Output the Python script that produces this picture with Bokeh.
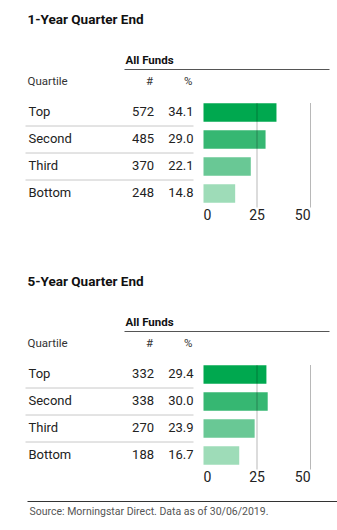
from bokeh.plotting import figure
from bokeh.models import Range1d, ColumnDataSource
from bokeh.layouts import column
from bokeh.core.properties import value
from bokeh.embed import file_html
from bokeh.resources import INLINE

# ---------------- data ----------------
quartiles = ["Top", "Second", "Third", "Bottom"]
counts_1y = [572, 485, 370, 248]
pcts_1y = [34.1, 29.0, 22.1, 14.8]
counts_5y = [332, 338, 270, 188]
pcts_5y = [29.4, 30.0, 23.9, 16.7]
ticks = [0, 25, 50]
titles = ["1-Year Quarter End", "5-Year Quarter End"]
group_label = "All Funds"
col_headers = ["Quartile", "#", "%"]
source_note = "Source: Morningstar Direct. Data as of 30/06/2019."

bar_colors = ["#00a84f", "#36b772", "#69c895", "#9edcb8"]

FONT = "Roboto"
W = 337
PX_PER_UNIT = (310 - 203) / 50.0   # pixels per percentage point
X0_PX = 203                          # pixel position of value 0
ROW0_PX = 112                        # pixel centre of first row
ROW_PX = 27                          # row pitch in pixels
TDY = -5.0                           # text baseline correction (px)


def X(px):
    return (px - X0_PX) / PX_PER_UNIT


def Y(px):
    return (px - ROW0_PX) / ROW_PX


def TY(px):
    return Y(px + TDY)


def panel(title, counts, pcts, height, with_source=False):
    p = figure(width=W, height=height, output_backend="svg", toolbar_location=None,
               x_range=Range1d(X(0), X(W)), y_range=Range1d(Y(height), Y(0)),
               x_axis_type=None, y_axis_type=None, min_border=0,
               outline_line_color=None, background_fill_color="white",
               border_fill_color="white")
    p.grid.visible = False

    f = value(FONT)
    idx = list(range(len(quartiles)))

    # title
    p.text(x=[X(27)], y=[TY(23)], text=[title], text_font=f, text_font_size="13.5px",
           text_font_style="bold", text_color="#111111", text_baseline="alphabetic")
    # group header
    p.text(x=[X(125)], y=[TY(64.5)], text=[group_label], text_font=f, text_font_size="11.5px",
           text_font_style="bold", text_color="#111111", text_baseline="alphabetic")
    p.segment(x0=[X(124)], x1=[X(329)], y0=[Y(69)], y1=[Y(69)], line_color="#555555", line_width=1)
    # column headers
    p.text(x=[X(27)], y=[TY(85)], text=[col_headers[0]], text_font=f, text_font_size="11.5px",
           text_color="#333333", text_baseline="alphabetic")
    p.text(x=[X(152.5), X(192)], y=[TY(85), TY(85)], text=col_headers[1:], text_font=f,
           text_font_size="11.5px", text_color="#333333", text_baseline="alphabetic",
           text_align="right")

    # table rows
    src = ColumnDataSource(dict(
        y=idx,
        ty=[i + (4.0 + TDY) / ROW_PX for i in idx],
        q=quartiles,
        n=[str(c) for c in counts],
        pct=pcts,
        pt=["%.1f" % v for v in pcts],
        color=bar_colors,
    ))
    p.text(x=X(28), y="ty", text="q", source=src, text_font=f, text_font_size="13px",
           text_color="#222222", text_baseline="alphabetic")
    p.text(x=X(153.5), y="ty", text="n", source=src, text_font=f, text_font_size="13px",
           text_color="#222222", text_baseline="alphabetic", text_align="right")
    p.text(x=X(193), y="ty", text="pt", source=src, text_font=f, text_font_size="13px",
           text_color="#222222", text_baseline="alphabetic", text_align="right")
    # row separators
    seps = [i + 0.5 for i in idx[:-1]]
    p.segment(x0=[X(25)] * len(seps), x1=[X(193)] * len(seps), y0=seps, y1=seps,
              line_color="#c8c8c8", line_width=1)

    # bars
    p.hbar(y="y", left=0, right="pct", height=0.68, fill_color="color",
           line_color=None, source=src)

    # grid lines at 25 and 50 (over the bars)
    g = ticks[1:]
    p.segment(x0=g, x1=g, y0=[Y(102.5)] * len(g), y1=[Y(207)] * len(g),
              line_color="black", line_alpha=0.28, line_width=1)

    # tick labels
    p.text(x=ticks, y=[TY(219)] * len(ticks), text=[str(t) for t in ticks],
           text_font=f, text_font_size="14px", text_color="#222222",
           text_baseline="alphabetic", text_align=["left", "center", "right"])

    if with_source:
        p.segment(x0=[X(27)], x1=[X(337)], y0=[Y(239)], y1=[Y(239)], line_color="#333333", line_width=1)
        p.text(x=[X(29)], y=[TY(253.5)], text=[source_note], text_font=f, text_font_size="10.5px",
               text_color="#555555", text_baseline="alphabetic")
    return p


p1 = panel(titles[0], counts_1y, pcts_1y, 262)
p2 = panel(titles[1], counts_5y, pcts_5y, 268, with_source=True)
layout = column(p1, p2, spacing=0)

open("out.html", "w").write(file_html(layout, INLINE))
